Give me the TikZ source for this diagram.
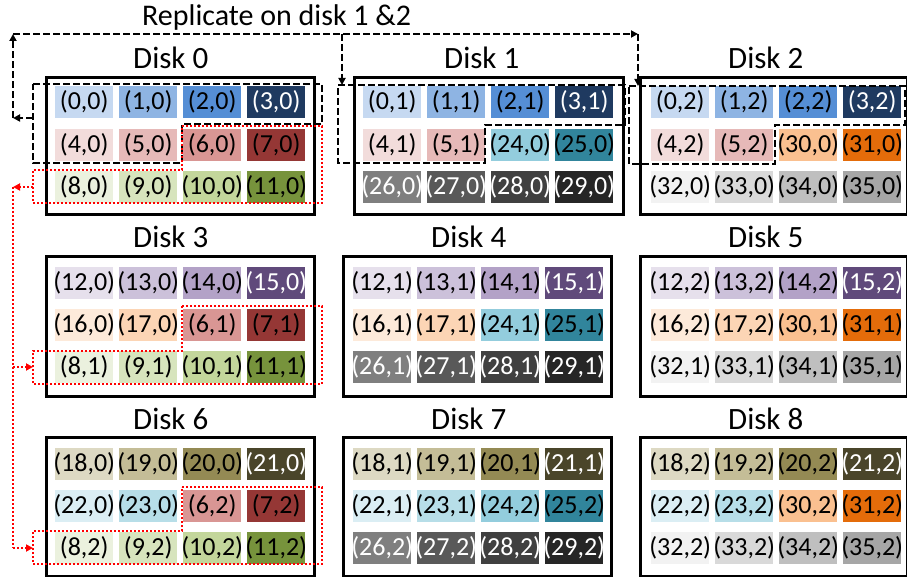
\documentclass[tikz,border=0pt]{standalone}
\usepackage{fontspec}
\setmainfont{Carlito}
\usetikzlibrary{arrows.meta}
\definecolor{b1}{HTML}{C6D9F1}\definecolor{b2}{HTML}{8EB4E3}\definecolor{b3}{HTML}{558ED5}\definecolor{b4}{HTML}{1F3A60}
\definecolor{p1}{HTML}{F2DCDB}\definecolor{p2}{HTML}{E6B9B8}\definecolor{p3}{HTML}{D99694}\definecolor{p4}{HTML}{953735}
\definecolor{g1}{HTML}{EBF1DE}\definecolor{g2}{HTML}{D7E4BD}\definecolor{g3}{HTML}{C3D69B}\definecolor{g4}{HTML}{77933C}
\definecolor{v1}{HTML}{E6E0EC}\definecolor{v2}{HTML}{CCC1DA}\definecolor{v3}{HTML}{B3A2C7}\definecolor{v4}{HTML}{604A7B}
\definecolor{o1}{HTML}{FDEADA}\definecolor{o2}{HTML}{FCD5B5}\definecolor{o3}{HTML}{FAC090}\definecolor{o4}{HTML}{E46C0A}
\definecolor{t1}{HTML}{DDD9C3}\definecolor{t2}{HTML}{C4BD97}\definecolor{t3}{HTML}{948A54}\definecolor{t4}{HTML}{4A452A}
\definecolor{a1}{HTML}{DBEEF4}\definecolor{a2}{HTML}{B7DEE8}\definecolor{a3}{HTML}{93CDDD}\definecolor{a4}{HTML}{31859C}
\definecolor{k1}{HTML}{7F7F7F}\definecolor{k2}{HTML}{595959}\definecolor{k3}{HTML}{404040}\definecolor{k4}{HTML}{262626}
\definecolor{l1}{HTML}{F2F2F2}\definecolor{l2}{HTML}{D9D9D9}\definecolor{l3}{HTML}{BFBFBF}\definecolor{l4}{HTML}{A6A6A6}
\definecolor{dotred}{HTML}{FF0000}
\newcommand\mkrow[4]{\foreach \fc/\p/\q/\tc [count=\i from 0] in {#4}{%
  \node[cellbox, fill=\fc] (#1-\i) at ({#2+64*\i},#3) {};
  \node[celltext, text=\tc] (#1-\i-txt) at (#1-\i.center) {(\p,\q)};}}
\begin{document}
\begin{tikzpicture}[x=1pt,y=-1pt,
  cellbox/.style={minimum width=58pt, minimum height=32pt, inner sep=0pt, anchor=north west},
  celltext/.style={inner sep=0pt, font=\fontsize{26}{26}\selectfont},
  diskbox/.style={draw=black, line width=3pt, minimum width=268pt, minimum height=138pt, inner sep=0pt},
  titlefont/.style={font=\fontsize{31}{31}\selectfont, anchor=base west, inner sep=0pt},
  blk/.style={draw=black, line width=2pt, dash pattern=on 7pt off 3pt},
  redline/.style={draw=dotred, line width=2pt, dash pattern=on 2pt off 2pt},
  tip/.tip={Triangle[length=7pt,width=7pt]}]
\useasboundingbox (0,0) rectangle (907,577);
% ---- cells ----
% Disk 0
\mkrow{d0a}{55}{86}{b1/0/0/black, b2/1/0/black, b3/2/0/black, b4/3/0/white}
\mkrow{d0b}{55}{128.5}{p1/4/0/black, p2/5/0/black, p3/6/0/black, p4/7/0/black}
\mkrow{d0c}{55}{171}{g1/8/0/black, g2/9/0/black, g3/10/0/black, g4/11/0/black}
% Disk 1
\mkrow{d1a}{363}{86}{b1/0/1/black, b2/1/1/black, b3/2/1/black, b4/3/1/white}
\mkrow{d1b}{363}{128.5}{p1/4/1/black, p2/5/1/black, a3/24/0/black, a4/25/0/black}
\mkrow{d1c}{363}{171}{k1/26/0/white, k2/27/0/white, k3/28/0/white, k4/29/0/white}
% Disk 2
\mkrow{d2a}{651}{86}{b1/0/2/black, b2/1/2/black, b3/2/2/black, b4/3/2/white}
\mkrow{d2b}{651}{128.5}{p1/4/2/black, p2/5/2/black, o3/30/0/black, o4/31/0/black}
\mkrow{d2c}{651}{171}{l1/32/0/black, l2/33/0/black, l3/34/0/black, l4/35/0/black}
% Disk 3
\mkrow{d3a}{55}{267}{v1/12/0/black, v2/13/0/black, v3/14/0/black, v4/15/0/white}
\mkrow{d3b}{55}{309}{o1/16/0/black, o2/17/0/black, p3/6/1/black, p4/7/1/black}
\mkrow{d3c}{55}{351}{g1/8/1/black, g2/9/1/black, g3/10/1/black, g4/11/1/black}
% Disk 4
\mkrow{d4a}{353}{267}{v1/12/1/black, v2/13/1/black, v3/14/1/black, v4/15/1/white}
\mkrow{d4b}{353}{309}{o1/16/1/black, o2/17/1/black, a3/24/1/black, a4/25/1/black}
\mkrow{d4c}{353}{351}{k1/26/1/white, k2/27/1/white, k3/28/1/white, k4/29/1/white}
% Disk 5
\mkrow{d5a}{651}{267}{v1/12/2/black, v2/13/2/black, v3/14/2/black, v4/15/2/white}
\mkrow{d5b}{651}{309}{o1/16/2/black, o2/17/2/black, o3/30/1/black, o4/31/1/black}
\mkrow{d5c}{651}{351}{l1/32/1/black, l2/33/1/black, l3/34/1/black, l4/35/1/black}
% Disk 6
\mkrow{d6a}{55}{448}{t1/18/0/black, t2/19/0/black, t3/20/0/black, t4/21/0/white}
\mkrow{d6b}{55}{490}{a1/22/0/black, a2/23/0/black, p3/6/2/black, p4/7/2/black}
\mkrow{d6c}{55}{532}{g1/8/2/black, g2/9/2/black, g3/10/2/black, g4/11/2/black}
% Disk 7
\mkrow{d7a}{353}{448}{t1/18/1/black, t2/19/1/black, t3/20/1/black, t4/21/1/white}
\mkrow{d7b}{353}{490}{a1/22/1/black, a2/23/1/black, a3/24/2/black, a4/25/2/black}
\mkrow{d7c}{353}{532}{k1/26/2/white, k2/27/2/white, k3/28/2/white, k4/29/2/white}
% Disk 8
\mkrow{d8a}{651}{448}{t1/18/2/black, t2/19/2/black, t3/20/2/black, t4/21/2/white}
\mkrow{d8b}{651}{490}{a1/22/2/black, a2/23/2/black, o3/30/2/black, o4/31/2/black}
\mkrow{d8c}{651}{532}{l1/32/2/black, l2/33/2/black, l3/34/2/black, l4/35/2/black}
% ---- disk boxes and titles ----
\node[diskbox, anchor=north west, minimum height=137pt] (disk0) at (45,76) {};
\node[diskbox, anchor=north west, minimum height=137pt, minimum width=269pt] (disk1) at (353,76) {};
\node[diskbox, anchor=north west, minimum height=137pt, minimum width=267pt] (disk2) at (639,76) {};
\node[diskbox, anchor=north west, minimum height=140pt] (disk3) at (45,255) {};
\node[diskbox, anchor=north west, minimum height=140pt] (disk4) at (342,255) {};
\node[diskbox, anchor=north west, minimum height=140pt, minimum width=267pt] (disk5) at (639,255) {};
\node[diskbox, anchor=north west, minimum height=139pt] (disk6) at (45,436) {};
\node[diskbox, anchor=north west, minimum height=139pt] (disk7) at (342,436) {};
\node[diskbox, anchor=north west, minimum height=139pt, minimum width=267pt] (disk8) at (639,436) {};
\node[titlefont] (title0) at (133,69) {Disk 0};
\node[titlefont] (title1) at (444,69) {Disk 1};
\node[titlefont] (title2) at (728,69) {Disk 2};
\node[titlefont] (title3) at (133,248) {Disk 3};
\node[titlefont] (title4) at (431,248) {Disk 4};
\node[titlefont] (title5) at (728,248) {Disk 5};
\node[titlefont] (title6) at (133,429) {Disk 6};
\node[titlefont] (title7) at (431,429) {Disk 7};
\node[titlefont] (title8) at (728,429) {Disk 8};
\node[titlefont, font=\fontsize{30}{30}\selectfont] (rep) at (142,26) {Replicate on disk 1 \&2};
% ---- dashed outlines ----
\draw[blk] (33,84) -- (322,84) -- (322,124) -- (182,124) -- (182,163) -- (33,163) -- cycle;
\draw[blk] (338,85) -- (625,85) -- (625,125) -- (485,125) -- (485,163) -- (338,163) -- cycle;
\draw[blk] (629,86) -- (905,86) -- (905,125) -- (775,125) -- (775,164) -- (629,164) -- cycle;
\draw[redline] (182,126) -- (322,126) -- (322,203) -- (33,203) -- (33,170) -- (182,170) -- cycle;
\draw[redline] (182,306) -- (322,306) -- (322,384) -- (33,384) -- (33,351) -- (182,351) -- cycle;
\draw[redline] (182,487) -- (322,487) -- (322,564) -- (33,564) -- (33,531) -- (182,531) -- cycle;
% ---- replication arrows ----
\coordinate (bsrc) at (33,118);
\coordinate (bcorner) at (13,118);
\coordinate (btl) at (13,34);
\coordinate (bmid) at (342,34);
\coordinate (btr) at (638,34);
\coordinate (d1in) at (342,85);
\coordinate (d2in) at (638,86);
\draw[blk,-tip] (bsrc) -- (bcorner);
\draw[blk,-tip] (bcorner) -- (btl);
\draw[blk,-tip] (btl) -- (btr);
\draw[blk,-tip] (btr) -- (d2in);
\draw[blk,-tip] (bmid) -- (d1in);
\coordinate (rsrc) at (33,187);
\coordinate (rcorner) at (13,187);
\coordinate (r3) at (13,367);
\coordinate (r3in) at (33,367);
\coordinate (r6) at (13,548);
\coordinate (r6in) at (33,548);
\draw[redline,-tip] (rsrc) -- (rcorner);
\draw[redline] (rcorner) -- (r6);
\draw[redline,-tip] (r3) -- (r3in);
\draw[redline,-tip] (r6) -- (r6in);
\end{tikzpicture}
\end{document}
